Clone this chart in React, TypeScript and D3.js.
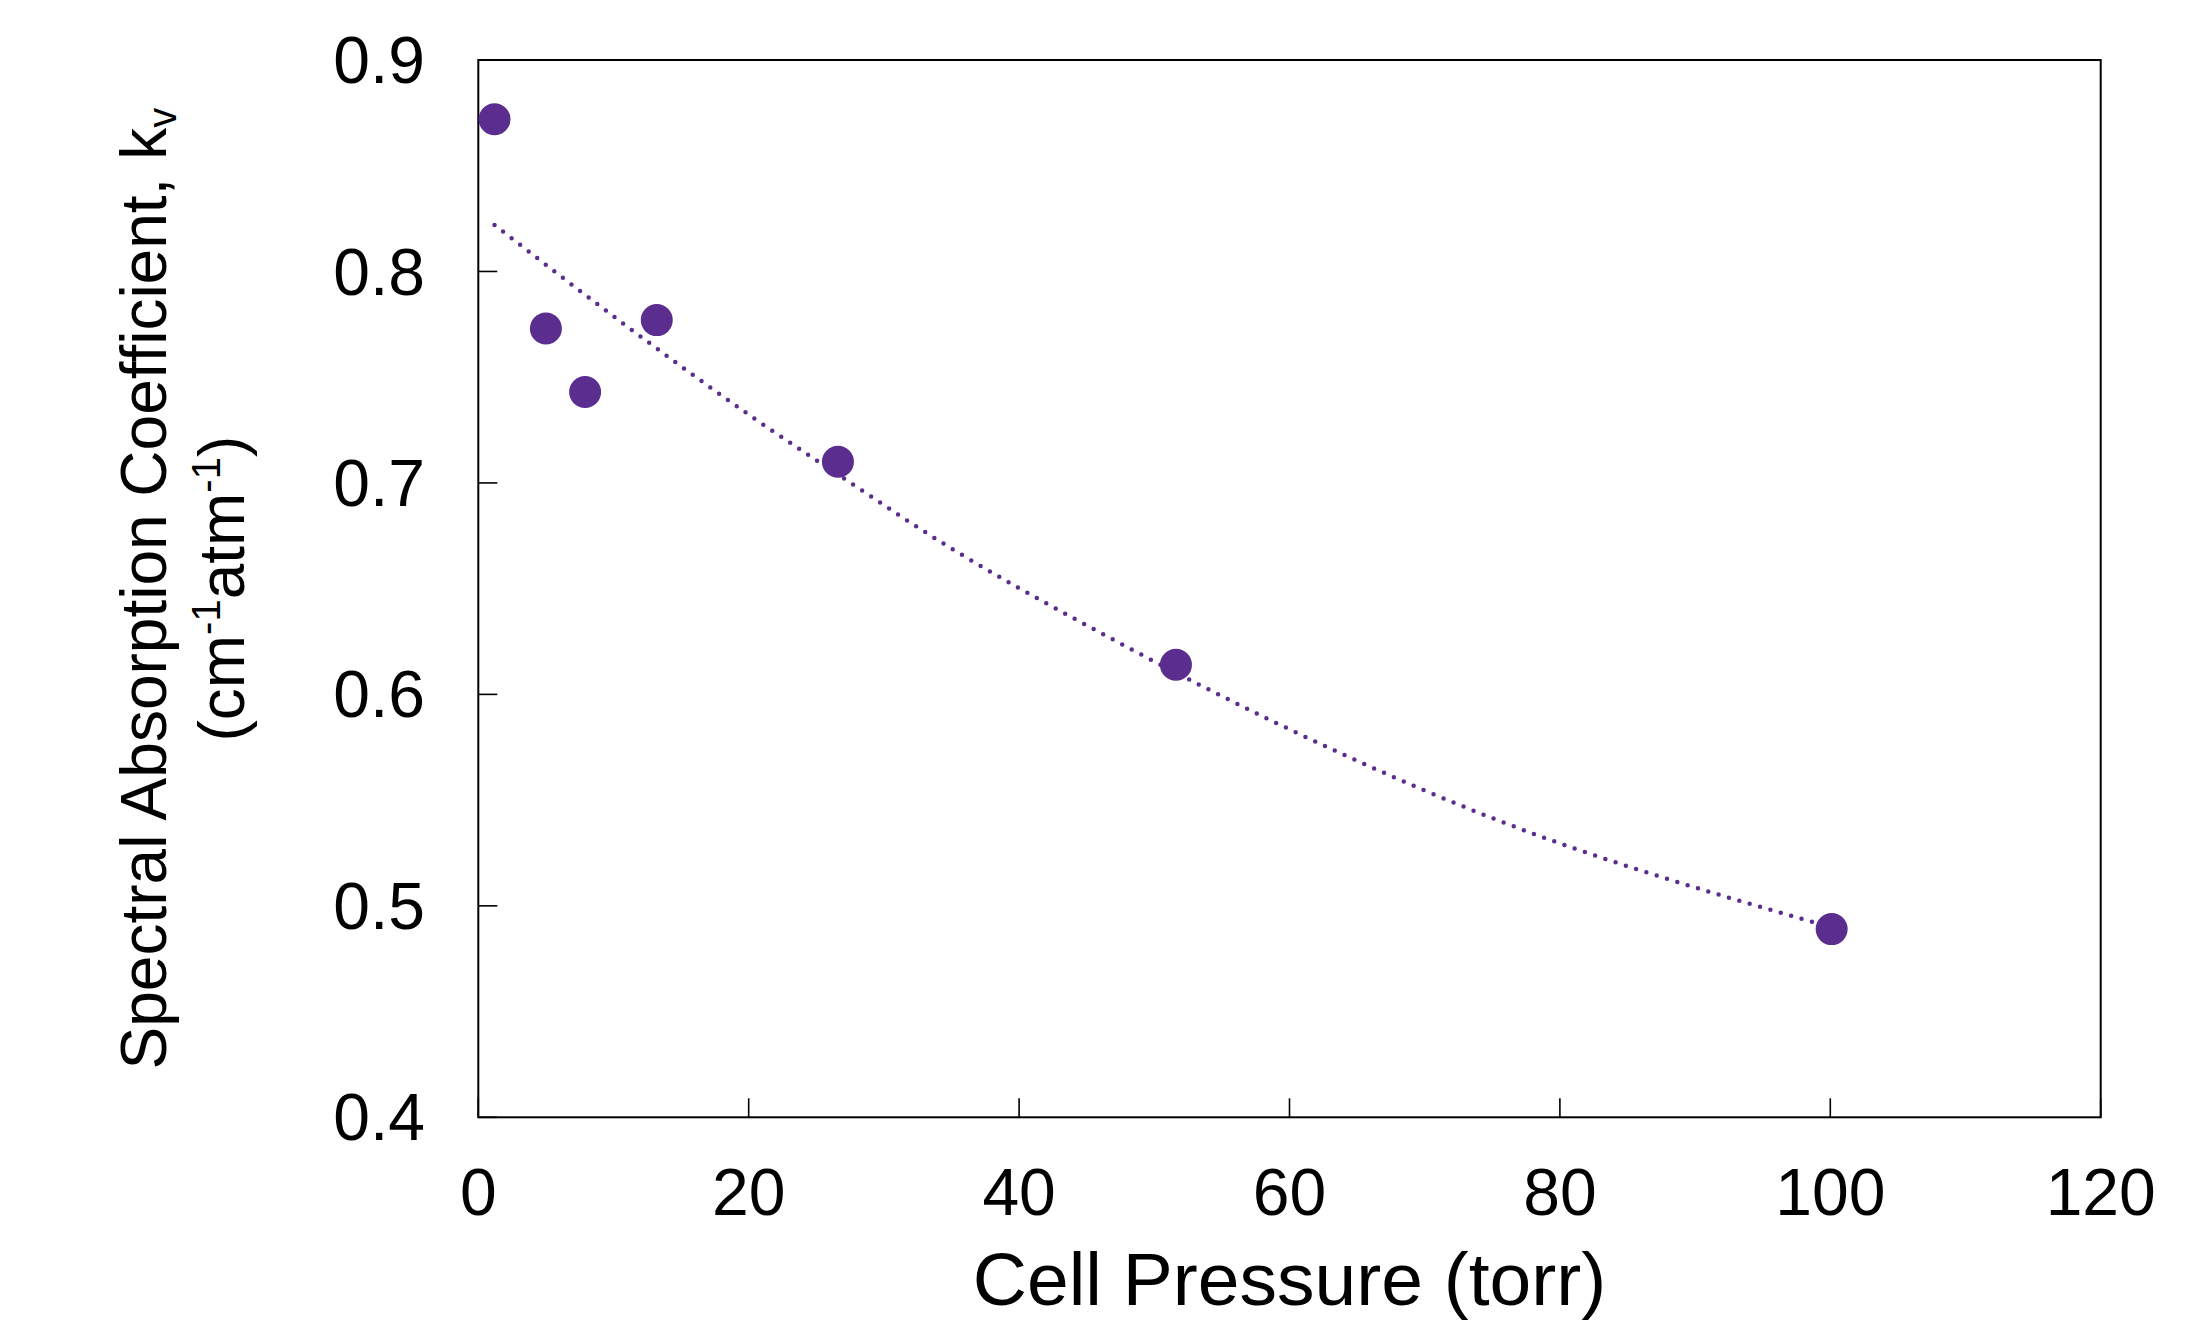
import React from "react";
import * as d3 from "d3";

const pressure = [1.2, 5.0, 7.9, 13.2, 26.6, 51.6, 100.1];
const kv = [0.872, 0.773, 0.743, 0.777, 0.71, 0.614, 0.489];

const fitX = [1.2, 11.0, 20.3, 29.2, 31.3, 48.4, 53.5, 75.2, 97.8, 100];
const fitY = [0.822, 0.774, 0.731, 0.693, 0.684, 0.621, 0.604, 0.541, 0.494, 0.49];

const xTicks = [0, 20, 40, 60, 80, 100, 120];
const yTicks = [0.4, 0.5, 0.6, 0.7, 0.8, 0.9];

const W = 2187;
const H = 1325;
const M = { left: 478.3, right: 2100.7, top: 60, bottom: 1117.3 };
const PURPLE = "#5B2D8E";
const FONT = "'Liberation Sans', Arial, sans-serif";

export default function App() {
  const x = d3.scaleLinear().domain([0, 120]).range([M.left, M.right]);
  const y = d3.scaleLinear().domain([0.4, 0.9]).range([M.bottom, M.top]);
  const fitPts: [number, number][] = fitX.map((v, i) => [v, fitY[i]]);
  const line = d3
    .line<[number, number]>()
    .x((d) => x(d[0]))
    .y((d) => y(d[1]))
    .curve(d3.curveMonotoneX);
  const tickLen = 19;
  const cx = (M.left + M.right) / 2;
  const cy = (M.top + M.bottom) / 2;

  return (
    <svg
      width={W}
      height={H}
      style={{ position: "absolute", left: 0, top: 0, background: "#fff" }}
      fontFamily={FONT}
    >
      <rect x={0} y={0} width={W} height={H} fill="#fff" />
      {xTicks.map((t) => (
        <line
          key={"xt" + t}
          x1={x(t)}
          x2={x(t)}
          y1={M.bottom}
          y2={M.bottom - tickLen}
          stroke="#000"
          strokeWidth={1.6}
        />
      ))}
      {yTicks.map((t) => (
        <line
          key={"yt" + t}
          x1={M.left}
          x2={M.left + tickLen}
          y1={y(t)}
          y2={y(t)}
          stroke="#000"
          strokeWidth={1.6}
        />
      ))}
      <rect
        x={M.left}
        y={M.top}
        width={M.right - M.left}
        height={M.bottom - M.top}
        fill="none"
        stroke="#000"
        strokeWidth={2}
      />
      {xTicks.map((t) => (
        <text
          key={"xl" + t}
          x={x(t)}
          y={1215}
          textAnchor="middle"
          fontSize={66}
          fill="#000"
        >
          {String(t)}
        </text>
      ))}
      {yTicks.map((t) => (
        <text
          key={"yl" + t}
          x={425}
          y={y(t)}
          dy="0.35em"
          textAnchor="end"
          fontSize={66}
          fill="#000"
        >
          {t.toFixed(1)}
        </text>
      ))}
      <text x={cx} y={1305} textAnchor="middle" fontSize={75} fill="#000">
        Cell Pressure (torr)
      </text>
      <text
        transform={`translate(166,${cy}) rotate(-90)`}
        textAnchor="middle"
        fontSize={64}
        fill="#000"
      >
        Spectral Absorption Coefficient, k
        <tspan fontSize={40} dy={10}>v</tspan>
      </text>
      <text
        transform={`translate(244,${cy}) rotate(-90)`}
        textAnchor="middle"
        fontSize={64}
        fill="#000"
      >
        (cm
        <tspan fontSize={40} dy={-24}>-1</tspan>
        <tspan dy={24}>atm</tspan>
        <tspan fontSize={40} dy={-24}>-1</tspan>
        <tspan dy={24}>)</tspan>
      </text>
      <path
        d={line(fitPts) || ""}
        fill="none"
        stroke={PURPLE}
        strokeWidth={4.5}
        strokeDasharray="0 10.8"
        strokeLinecap="round"
      />
      {pressure.map((p, i) => (
        <circle key={"pt" + i} cx={x(p)} cy={y(kv[i])} r={16} fill={PURPLE} />
      ))}
    </svg>
  );
}
